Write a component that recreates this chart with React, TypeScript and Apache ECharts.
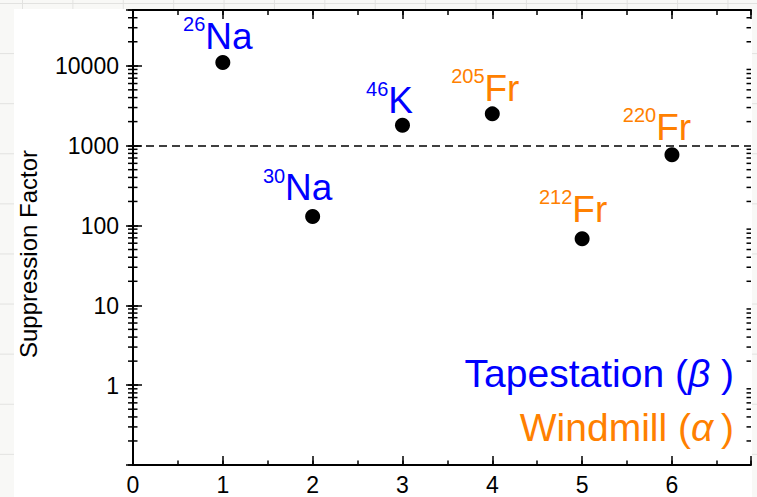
import React, { useEffect, useRef } from 'react';
import * as echarts from 'echarts';

// ---- data ----
const xPositions = [1, 2, 3, 4, 5, 6];
const suppressionFactors = [11000, 130, 1800, 2500, 68, 770];
const massNumbers = ['26', '30', '46', '205', '212', '220'];
const elementSymbols = ['Na', 'Na', 'K', 'Fr', 'Fr', 'Fr'];
const methods = ['tape', 'tape', 'tape', 'windmill', 'windmill', 'windmill'];
const xTickLabels = ['0', '1', '2', '3', '4', '5', '6'];
const yTickLabels = ['1', '10', '100', '1000', '10000'];
const thresholdValue = 1000;
const legendTexts = ['Tapestation', 'Windmill'];
const legendGreek = ['β', 'α'];
const yAxisTitle = 'Suppression Factor';

const X_MIN = 0;
const X_MAX = 6.88;
const Y_MIN = 0.1;
const Y_MAX = 50000;

const BLUE = '#0000ff';
const ORANGE = '#ff8000';
const FONT = '"Liberation Sans", Arial, Helvetica, sans-serif';

export default function App() {
  const ref = useRef<HTMLDivElement>(null);

  useEffect(() => {
    if (!ref.current) return;
    const chart = echarts.init(ref.current, undefined, { renderer: 'svg' });

    // minor log ticks 2..9 x 10^k (axis decoration)
    const minorLogTicks: number[] = [];
    for (let k = -1; k <= 4; k++) {
      for (let m = 2; m <= 9; m++) {
        const v = m * Math.pow(10, k);
        if (v < Y_MAX) minorLogTicks.push(v);
      }
    }

    // label nudges [dx, dy] in pixels
    const labelNudge = [
      [-5, 3],
      [-15, 1],
      [-13, 5],
      [-7, 4],
      [-9, 0],
      [-15, 2],
    ];

    const tickLine = { lineStyle: { color: '#000', width: 1.5 } };
    const axisLine = { show: true, lineStyle: { color: '#000', width: 2 } };

    const baseX = {
      type: 'value' as const,
      min: X_MIN,
      max: X_MAX,
      splitLine: { show: false },
      axisLabel: { show: false },
    };
    const baseY = {
      type: 'log' as const,
      logBase: 10,
      min: Y_MIN,
      max: Y_MAX,
      splitLine: { show: false },
      axisLabel: { show: false },
    };

    const tickText = (x: number, y: number, text: string, align: string) => ({
      type: 'text',
      x,
      y,
      style: {
        text,
        fontSize: 23,
        lineHeight: 18,
        fontFamily: FONT,
        fill: '#000',
        align,
        verticalAlign: 'middle',
      },
    });

    const option: any = {
      animation: false,
      textStyle: { fontFamily: FONT },
      grid: { left: 133, top: 10, right: 6, bottom: 32, containLabel: false },
      xAxis: [
        {
          ...baseX,
          position: 'bottom',
          interval: 1,
          axisLine,
          axisTick: { show: true, inside: true, length: 9, ...tickLine },
        },
        {
          ...baseX,
          position: 'bottom',
          interval: 0.5,
          axisLine: { show: false },
          axisTick: { show: true, inside: true, length: 4.5, ...tickLine },
        },
        {
          ...baseX,
          position: 'top',
          interval: 1,
          axisLine,
          axisTick: { show: true, inside: true, length: 9, ...tickLine },
        },
        {
          ...baseX,
          position: 'top',
          interval: 0.5,
          axisLine: { show: false },
          axisTick: { show: true, inside: true, length: 5, ...tickLine },
        },
      ],
      yAxis: [
        {
          ...baseY,
          position: 'left',
          axisLine,
          axisTick: { show: true, inside: true, length: 9, ...tickLine },
        },
        {
          ...baseY,
          position: 'left',
          axisLine: { show: false },
          axisTick: { show: true, inside: false, length: 5, ...tickLine },
        },
        {
          ...baseY,
          position: 'right',
          axisLine,
          axisTick: { show: true, inside: true, length: 7, ...tickLine },
        },
        {
          ...baseY,
          position: 'right',
          axisLine: { show: false },
          axisTick: { show: true, inside: false, length: 5, ...tickLine },
        },
      ],
      series: [
        // minor log ticks on left and right frame
        {
          type: 'custom',
          xAxisIndex: 0,
          yAxisIndex: 0,
          silent: true,
          clip: false,
          z: 1,
          data: minorLogTicks.map((v) => [X_MIN, v]),
          renderItem: (params: any, api: any) => {
            const p = api.coord([X_MIN, api.value(1)]);
            const cs = params.coordSys;
            const right = cs.x + cs.width;
            const st = { stroke: '#000', lineWidth: 1.5 };
            return {
              type: 'group',
              children: [
                { type: 'line', shape: { x1: p[0] - 5, y1: p[1], x2: p[0] + 4.5, y2: p[1] }, style: st },
                { type: 'line', shape: { x1: right - 4.5, y1: p[1], x2: right, y2: p[1] }, style: st },
              ],
            };
          },
        },
        // y tick labels
        {
          type: 'custom',
          xAxisIndex: 0,
          yAxisIndex: 0,
          silent: true,
          clip: false,
          z: 1,
          data: yTickLabels.map((t) => [X_MIN, Number(t)]),
          renderItem: (params: any, api: any) => {
            const p = api.coord([X_MIN, api.value(1)]);
            return tickText(p[0] - 14, p[1] + 0.5, yTickLabels[params.dataIndex], 'right');
          },
        },
        // x tick labels
        {
          type: 'custom',
          xAxisIndex: 0,
          yAxisIndex: 0,
          silent: true,
          clip: false,
          z: 1,
          data: xTickLabels.map((t) => [Number(t), Y_MIN]),
          renderItem: (params: any, api: any) => {
            const p = api.coord([api.value(0), Y_MIN]);
            return tickText(p[0], p[1] + 20, xTickLabels[params.dataIndex], 'center');
          },
        },
        {
          type: 'scatter',
          xAxisIndex: 0,
          yAxisIndex: 0,
          symbol: 'circle',
          symbolSize: 15,
          z: 5,
          itemStyle: { color: '#000', opacity: 1 },
          emphasis: { disabled: true },
          data: xPositions.map((x, i) => {
            const color = methods[i] === 'tape' ? BLUE : ORANGE;
            return {
              value: [x, suppressionFactors[i]],
              label: {
                show: true,
                position: 'top',
                distance: 0,
                opacity: 1,
                offset: labelNudge[i],
                formatter: `{sup|${massNumbers[i]}}{main|${elementSymbols[i]}}`,
                rich: {
                  sup: {
                    fontSize: 20,
                    lineHeight: 20,
                    verticalAlign: 'top',
                    color,
                    fontFamily: FONT,
                  },
                  main: {
                    fontSize: 37,
                    lineHeight: 44,
                    color,
                    fontFamily: FONT,
                  },
                },
              },
            };
          }),
          markLine: {
            silent: true,
            symbol: ['none', 'none'],
            label: { show: false },
            lineStyle: { color: '#000', width: 1.5, type: [8, 5], opacity: 1 },
            data: [{ yAxis: thresholdValue }],
          },
        },
      ],
      graphic: [
        {
          type: 'text',
          x: 28,
          y: 254,
          rotation: Math.PI / 2,
          style: {
            text: yAxisTitle,
            fontSize: 24,
            fontFamily: FONT,
            fill: '#000',
            align: 'center',
            verticalAlign: 'middle',
          },
        },
        {
          type: 'text',
          x: 734,
          y: 373,
          style: {
            text: `{n|${legendTexts[0]} (}{g|${legendGreek[0]}}{n| )}`,
            align: 'right',
            verticalAlign: 'middle',
            fill: BLUE,
            rich: {
              n: { fontSize: 39, fontFamily: FONT, fill: BLUE, color: BLUE },
              g: { fontSize: 39, fontFamily: FONT, fontStyle: 'italic', fill: BLUE, color: BLUE },
            },
          },
        },
        {
          type: 'text',
          x: 734,
          y: 427,
          style: {
            text: `{n|${legendTexts[1]} (}{g|${legendGreek[1]}}{n|\u2009)}`,
            align: 'right',
            verticalAlign: 'middle',
            fill: ORANGE,
            rich: {
              n: { fontSize: 39, fontFamily: FONT, fill: ORANGE, color: ORANGE },
              g: { fontSize: 39, fontFamily: FONT, fontStyle: 'italic', fill: ORANGE, color: ORANGE },
            },
          },
        },
      ],
    };

    chart.setOption(option);
    return () => chart.dispose();
  }, []);

  return (
    <div
      style={{
        position: 'fixed',
        left: 0,
        top: 0,
        width: 757,
        height: 497,
        backgroundColor: '#f8f8f6',
        backgroundImage:
          'linear-gradient(to right, #e2e2e0 1px, transparent 1px), linear-gradient(to bottom, #e2e2e0 1px, transparent 1px)',
        backgroundSize: '50.4px 50.1px',
        backgroundPosition: '22px 3px',
        overflow: 'hidden',
      }}
    >
      <div
        style={{
          position: 'absolute',
          left: 14,
          top: 9,
          width: 738,
          height: 488,
          background: '#ffffff',
        }}
      />
      <div ref={ref} style={{ position: 'absolute', left: 0, top: 0, width: 757, height: 497 }} />
    </div>
  );
}
